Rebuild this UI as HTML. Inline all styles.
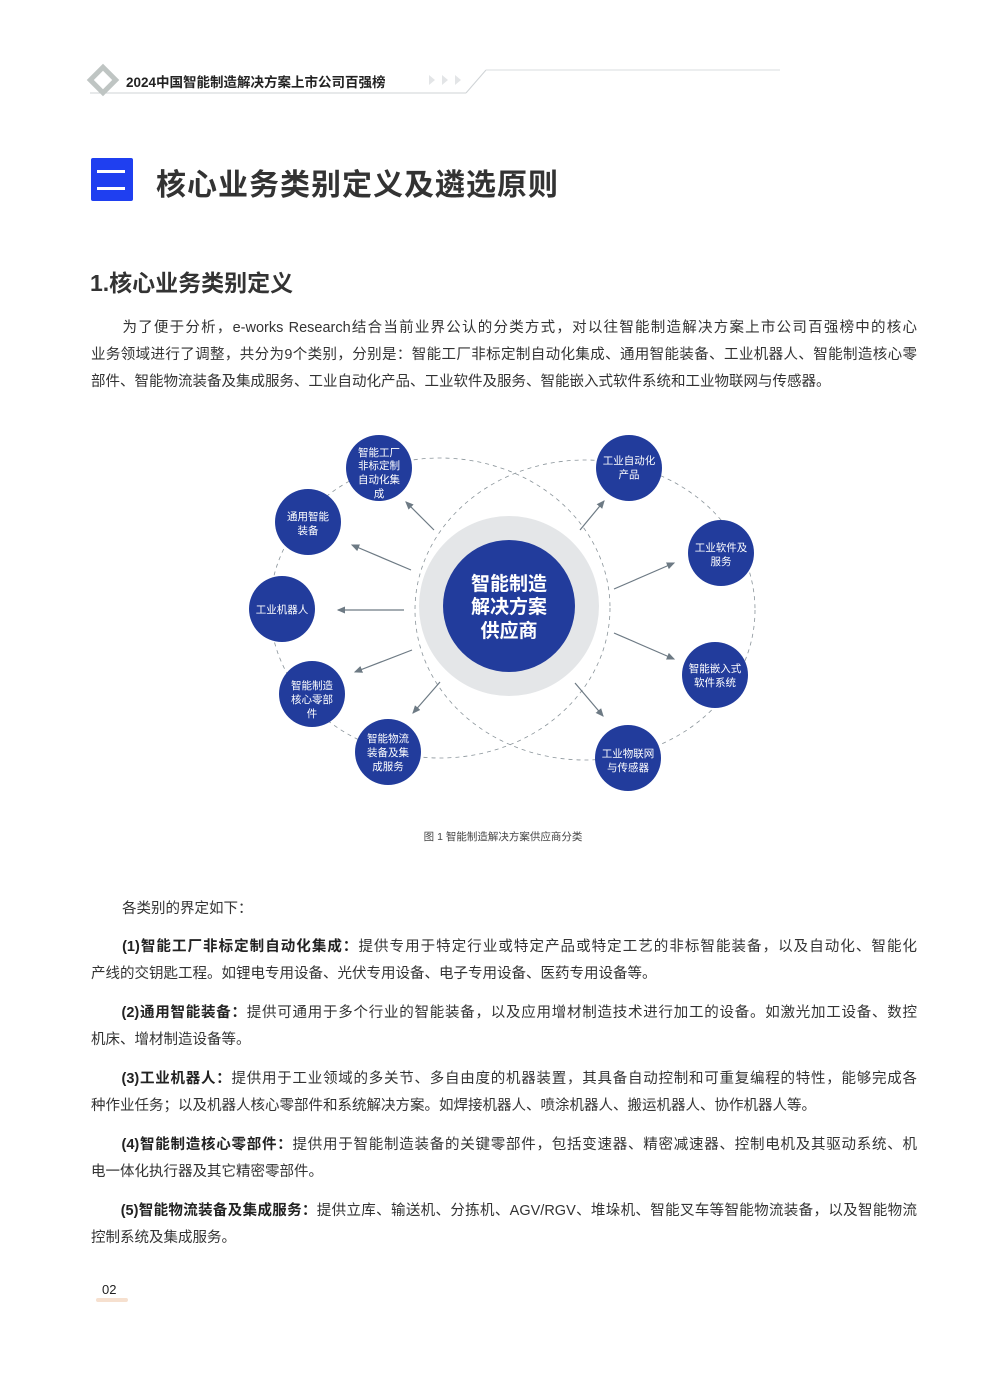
<!DOCTYPE html>
<html><head><meta charset="utf-8">
<style>
*{margin:0;padding:0;box-sizing:border-box}
body{width:1006px;height:1375px;background:#fff;position:relative;overflow:hidden;font-family:"Liberation Sans","Noto Sans CJK SC",sans-serif;color:#333}
.abs{position:absolute}
.ln{position:absolute;left:91px;width:826px;font-size:14.5px;line-height:20px;white-space:nowrap;text-align:justify;text-align-last:justify;margin-top:2px}
.ln.last{text-align-last:left}
b{font-weight:bold;color:#222}
</style></head><body>
<svg class="abs" style="left:0;top:0" width="1006" height="110">
<line x1="90" y1="93" x2="466" y2="93" stroke="#cfd3d6" stroke-width="1"/>
<line x1="466" y1="93" x2="486" y2="70" stroke="#cfd3d6" stroke-width="1"/>
<line x1="486" y1="70" x2="780" y2="70" stroke="#e6e8ea" stroke-width="1.5"/>
<g transform="translate(103,80) rotate(45)"><rect x="-9" y="-9" width="18" height="18" fill="none" stroke="#bfc5c3" stroke-width="5"/></g>
<polygon points="429,75 435,80 429,85" fill="#e3e5e7"/>
<polygon points="442,75 448,80 442,85" fill="#e3e5e7"/>
<polygon points="455,75 461,80 455,85" fill="#e3e5e7"/>
</svg>
<div class="abs" style="left:126px;top:71px;font-size:13.5px;color:#222;font-weight:bold">2024中国智能制造解决方案上市公司百强榜</div>
<div class="abs" style="left:91px;top:158px;width:42px;height:43px;background:#1f3ff0;border-radius:2px"></div>
<div class="abs" style="left:97px;top:170px;width:28px;height:3px;background:#fff"></div>
<div class="abs" style="left:97px;top:187px;width:28px;height:3px;background:#fff"></div>
<div class="abs" style="left:156px;top:160px;font-size:30px;font-weight:bold;color:#333;letter-spacing:1px">核心业务类别定义及遴选原则</div>
<div class="abs" style="left:90px;top:264px;font-size:23px;font-weight:bold;color:#333">1.核心业务类别定义</div>
<div class="ln" style="top:316px">　　为了便于分析，e-works Research结合当前业界公认的分类方式，对以往智能制造解决方案上市公司百强榜中的核心</div>
<div class="ln" style="top:343px">业务领域进行了调整，共分为9个类别，分别是：智能工厂非标定制自动化集成、通用智能装备、工业机器人、智能制造核心零</div>
<div class="ln last" style="top:370px">部件、智能物流装备及集成服务、工业自动化产品、工业软件及服务、智能嵌入式软件系统和工业物联网与传感器。</div>
<svg class="abs" style="left:0;top:0" width="1006" height="820" font-family="Liberation Sans,Noto Sans CJK SC,sans-serif">
<defs><marker id="a" markerWidth="8" markerHeight="8" refX="6" refY="4" orient="auto"><path d="M0,1 L7,4 L0,7 z" fill="#6d7a84"/></marker></defs>
<ellipse cx="440" cy="608" rx="170" ry="150" fill="none" stroke="#8a949a" stroke-dasharray="4,4" stroke-width="0.8"/>
<ellipse cx="585" cy="610" rx="170" ry="150" fill="none" stroke="#8a949a" stroke-dasharray="4,4" stroke-width="0.8"/>
<circle cx="509" cy="606" r="90" fill="#e4e6e8"/>
<circle cx="509" cy="606" r="66" fill="#223c9c"/>
<text x="509" y="590" fill="#fff" font-size="19" font-weight="bold" text-anchor="middle">智能制造</text>
<text x="509" y="613" fill="#fff" font-size="19" font-weight="bold" text-anchor="middle">解决方案</text>
<text x="509" y="637" fill="#fff" font-size="19" font-weight="bold" text-anchor="middle">供应商</text>
<g stroke="#6d7a84" stroke-width="1.2" marker-end="url(#a)">
<line x1="434" y1="530" x2="406" y2="502"/>
<line x1="411" y1="570" x2="352" y2="545"/>
<line x1="404" y1="610" x2="338" y2="610"/>
<line x1="412" y1="650" x2="355" y2="672"/>
<line x1="440" y1="682" x2="413" y2="713"/>
<line x1="580" y1="530" x2="604" y2="501"/>
<line x1="614" y1="589" x2="674" y2="563"/>
<line x1="614" y1="633" x2="674" y2="659"/>
<line x1="575" y1="683" x2="603" y2="716"/>
</g>
<g fill="#223c9c">
<circle cx="379" cy="468" r="33"/><circle cx="308" cy="522" r="33"/><circle cx="282" cy="609" r="33"/><circle cx="312" cy="694" r="33"/><circle cx="388" cy="752" r="33"/>
<circle cx="629" cy="468" r="33"/><circle cx="721" cy="553" r="33"/><circle cx="715" cy="675" r="33"/><circle cx="628" cy="758" r="33"/>
</g>
<g fill="#fff" font-size="10.5" text-anchor="middle">
<text x="379" y="456">智能工厂</text><text x="379" y="469">非标定制</text><text x="379" y="483">自动化集</text><text x="379" y="497">成</text>
<text x="308" y="520">通用智能</text><text x="308" y="534">装备</text>
<text x="282" y="613">工业机器人</text>
<text x="312" y="689">智能制造</text><text x="312" y="703">核心零部</text><text x="312" y="717">件</text>
<text x="388" y="742">智能物流</text><text x="388" y="756">装备及集</text><text x="388" y="770">成服务</text>
<text x="629" y="464">工业自动化</text><text x="629" y="478">产品</text>
<text x="721" y="551">工业软件及</text><text x="721" y="565">服务</text>
<text x="715" y="672">智能嵌入式</text><text x="715" y="686">软件系统</text>
<text x="628" y="757">工业物联网</text><text x="628" y="771">与传感器</text>
</g>
</svg>
<div class="abs" style="left:0;width:1006px;top:829px;text-align:center;font-size:10.5px;color:#444">图 1  智能制造解决方案供应商分类</div>
<div class="abs" style="left:122px;top:897px;font-size:14.5px;color:#333">各类别的界定如下：</div>
<div class="ln" style="top:935px">　　<b>(1)智能工厂非标定制自动化集成：</b>提供专用于特定行业或特定产品或特定工艺的非标智能装备，以及自动化、智能化</div>
<div class="ln last" style="top:962px">产线的交钥匙工程。如锂电专用设备、光伏专用设备、电子专用设备、医药专用设备等。</div>
<div class="ln" style="top:1001px">　　<b>(2)通用智能装备：</b>提供可通用于多个行业的智能装备，以及应用增材制造技术进行加工的设备。如激光加工设备、数控</div>
<div class="ln last" style="top:1028px">机床、增材制造设备等。</div>
<div class="ln" style="top:1067px">　　<b>(3)工业机器人：</b>提供用于工业领域的多关节、多自由度的机器装置，其具备自动控制和可重复编程的特性，能够完成各</div>
<div class="ln last" style="top:1094px">种作业任务；以及机器人核心零部件和系统解决方案。如焊接机器人、喷涂机器人、搬运机器人、协作机器人等。</div>
<div class="ln" style="top:1133px">　　<b>(4)智能制造核心零部件：</b>提供用于智能制造装备的关键零部件，包括变速器、精密减速器、控制电机及其驱动系统、机</div>
<div class="ln last" style="top:1160px">电一体化执行器及其它精密零部件。</div>
<div class="ln" style="top:1199px">　　<b>(5)智能物流装备及集成服务：</b>提供立库、输送机、分拣机、AGV/RGV、堆垛机、智能叉车等智能物流装备，以及智能物流</div>
<div class="ln last" style="top:1226px">控制系统及集成服务。</div>
<div class="abs" style="left:102px;top:1282px;font-size:13px;color:#222">02</div>
<div class="abs" style="left:96px;top:1298px;width:32px;height:4px;background:#f6e0cf;border-radius:2px"></div>
</body></html>
